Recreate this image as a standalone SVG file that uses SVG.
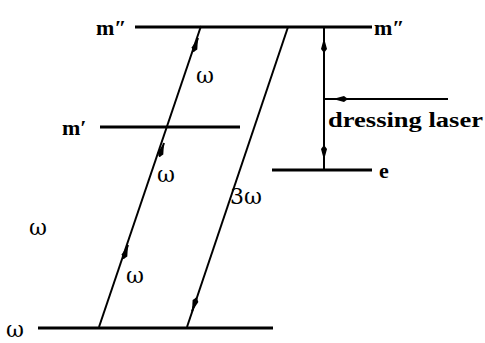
<svg xmlns="http://www.w3.org/2000/svg" width="485" height="343" viewBox="0 0 485 343">
<defs>
<marker id="ah" markerUnits="userSpaceOnUse" markerWidth="18" markerHeight="10" refX="15" refY="4" orient="auto">
<path d="M0,4 L4,1 L15,4 L4,7 z" fill="#000"/>
</marker>
<style>
.lvl{stroke:#000;stroke-width:3;fill:none}
.ln{stroke:#000;stroke-width:2;fill:none}
.ar{stroke:#000;stroke-width:2;fill:none;marker-end:url(#ah)}
.lb{font-family:"Liberation Serif","DejaVu Serif",serif;font-size:22px;font-weight:bold;fill:#000}
.w{font-family:"DejaVu Serif","Liberation Serif",serif;font-size:22px;fill:#000}
</style>
</defs>
<rect width="485" height="343" fill="#fff"/>
<g id="level-m2">
<line class="lvl" x1="135" y1="27" x2="372" y2="27"/>
<text class="lb" x="96" y="35">m″</text>
<text class="lb" x="374" y="35" font-weight="normal">m″</text>
</g>
<g id="level-m1">
<line class="lvl" x1="100" y1="127" x2="240" y2="127"/>
<text class="lb" x="62" y="135">m′</text>
</g>
<g id="level-e">
<line class="lvl" x1="272" y1="170" x2="372" y2="170"/>
<text class="lb" x="379" y="178" font-weight="normal">e</text>
</g>
<g id="level-ground">
<line class="lvl" x1="38" y1="328" x2="273" y2="328"/>
<text class="w" x="6" y="337">ω</text>
</g>
<g id="label-omega-left">
<text class="w" x="29" y="235">ω</text>
</g>
<g id="laser">
<text x="328" y="127" font-family="'Liberation Serif','DejaVu Serif',serif" font-size="20" font-weight="bold" textLength="155" lengthAdjust="spacingAndGlyphs">dressing laser</text>
</g>
<g id="connectors">
<line class="ln" x1="99" y1="327" x2="201" y2="26"/>
<path class="ar" d="M123.5,258.3 L128,245"/>
<path class="ar" d="M159.5,156.3 L164,143"/>
<path class="ar" d="M193.5,51.3 L198,38"/>
<line class="ln" x1="288" y1="27" x2="187" y2="327"/>
<path class="ar" d="M196.5,298 L192,311.5"/>
<line class="ln" x1="324" y1="28" x2="324" y2="170" stroke-width="2.5"/>
<path class="ar" d="M324,52 L324,38"/>
<path class="ar" d="M324,146 L324,160"/>
<line class="ln" x1="325" y1="99" x2="448" y2="99"/>
<path class="ar" d="M348,99 L333,99"/>
<text class="w" x="196" y="83">ω</text>
<text class="w" x="157" y="182">ω</text>
<text class="w" x="126" y="283">ω</text>
<text class="w" x="230" y="204">3ω</text>
</g>
</svg>
